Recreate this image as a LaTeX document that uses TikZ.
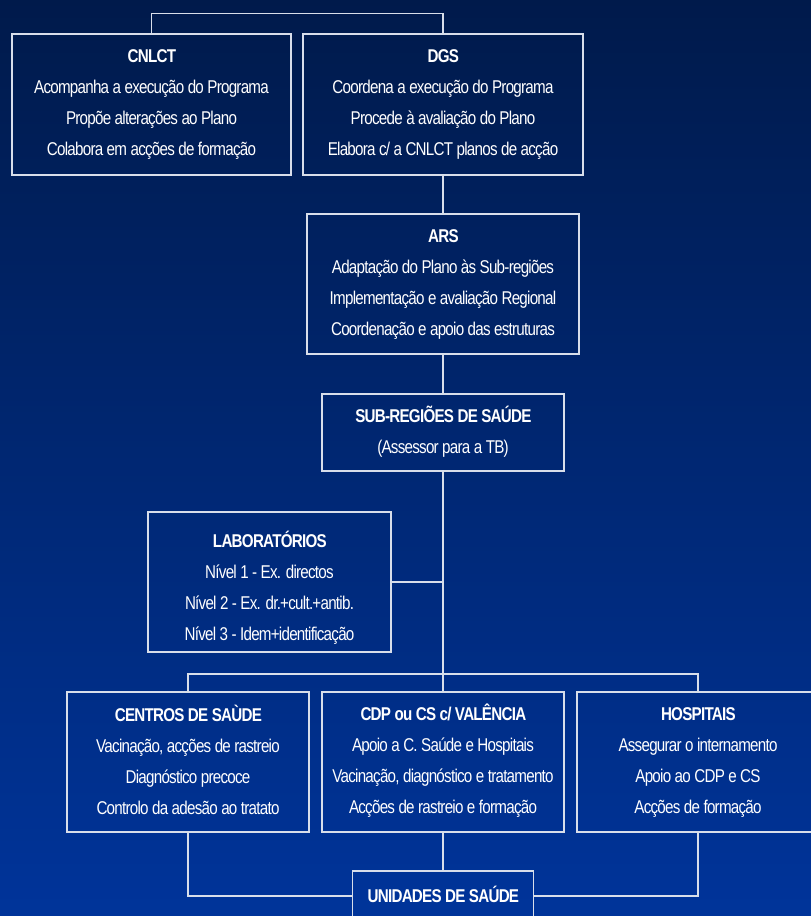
\documentclass[tikz,border=0pt]{standalone}
\usepackage{fontspec}
\setmainfont{Liberation Sans}[FakeStretch=0.82,LetterSpace=-4]
\definecolor{bgtop}{HTML}{001A4B}
\definecolor{bgbot}{HTML}{00349A}
\definecolor{ln}{HTML}{D8DEEA}
\begin{document}
\begin{tikzpicture}[x=1pt,y=1pt,
  box/.style={draw=ln, line width=1.3pt, inner sep=0pt},
  txt/.style={inner sep=0pt, align=center, text=white,
    font=\fontsize{18.5}{31}\selectfont},
  conn/.style={draw=ln, line width=1.3pt}]
\shade[top color=bgtop, bottom color=bgbot] (0,0) rectangle (811,-916);
\useasboundingbox (0,0) rectangle (811,-916);
% boxes
\node[box, minimum width=279, minimum height=141] (cnlct) at (151.5,-104.5) {};
\node[box, minimum width=280, minimum height=141] (dgs) at (443,-104.5) {};
\node[box, minimum width=272, minimum height=140] (ars) at (443,-284) {};
\node[box, minimum width=242, minimum height=77] (sub) at (443,-432.5) {};
\node[box, minimum width=243, minimum height=140] (lab) at (269.5,-582) {};
\node[box, minimum width=242, minimum height=140] (cs) at (188,-762) {};
\node[box, minimum width=242, minimum height=140] (cdp) at (443,-762) {};
\node[box, minimum width=242, minimum height=140] (hosp) at (698,-762) {};
\node[box, minimum width=181, minimum height=50] (uni) at (443,-896) {};
% texts
\node[txt] (cnlctt) at ([yshift=0.5]cnlct.center)
  {\textbf{CNLCT}\\Acompanha a execução do Programa\\Propõe alterações ao Plano\\Colabora em acções de formação};
\node[txt] (dgst) at ([yshift=0.5]dgs.center)
  {\textbf{DGS}\\Coordena a execução do Programa\\Procede à avaliação do Plano\\Elabora c/ a CNLCT planos de acção};
\node[txt] (arst) at ([yshift=-0.5]ars.center)
  {\textbf{ARS}\\Adaptação do Plano às Sub-regiões\\Implementação e avaliação Regional\\Coordenação e apoio das estruturas};
\node[txt] (subt) at ([yshift=1]sub.center)
  {\textbf{SUB-REGIÕES DE SAÚDE}\\(Assessor para a TB)};
\node[txt] (labt) at ([yshift=-6]lab.center)
  {\textbf{LABORATÓRIOS}\\Nível 1 - Ex. directos\\Nível 2 - Ex. dr.+cult.+antib.\\Nível 3 - Idem+identificação};
\node[txt] (cst) at ([yshift=2.5]cs.center)
  {\textbf{CENTROS DE SAÙDE}\\Vacinação, acções de rastreio\\Diagnóstico precoce\\Controlo da adesão ao tratato};
\node[txt] (cdpt) at ([yshift=1]cdp.center)
  {\textbf{CDP ou CS c/ VALÊNCIA}\\Apoio a C. Saúde e Hospitais\\Vacinação, diagnóstico e tratamento\\Acções de rastreio e formação};
\node[txt] (hospt) at (hosp.center)
  {\textbf{HOSPITAIS}\\Assegurar o internamento\\Apoio ao CDP e CS\\Acções de formação};
\node[txt] (unit) at ([yshift=2]uni.center) {\textbf{UNIDADES DE SAÚDE}};
% connectors
\coordinate (j) at (443,-674);
\draw[conn] (cnlct.north) -- ++(0,20) -| (dgs.north);
\draw[conn] (dgs.south) -- (ars.north);
\draw[conn] (ars.south) -- (sub.north);
\draw[conn] (sub.south) -- (j);
\draw[conn] (lab.east) -- (lab.east -| j);
\draw[conn] (cs.north) |- (j) -| (hosp.north);
\draw[conn] (j) -- (cdp.north);
\draw[conn] (cs.south) |- (uni.west);
\draw[conn] (hosp.south) |- (uni.east);
\draw[conn] (cdp.south) -- (uni.north);
\end{tikzpicture}
\end{document}
